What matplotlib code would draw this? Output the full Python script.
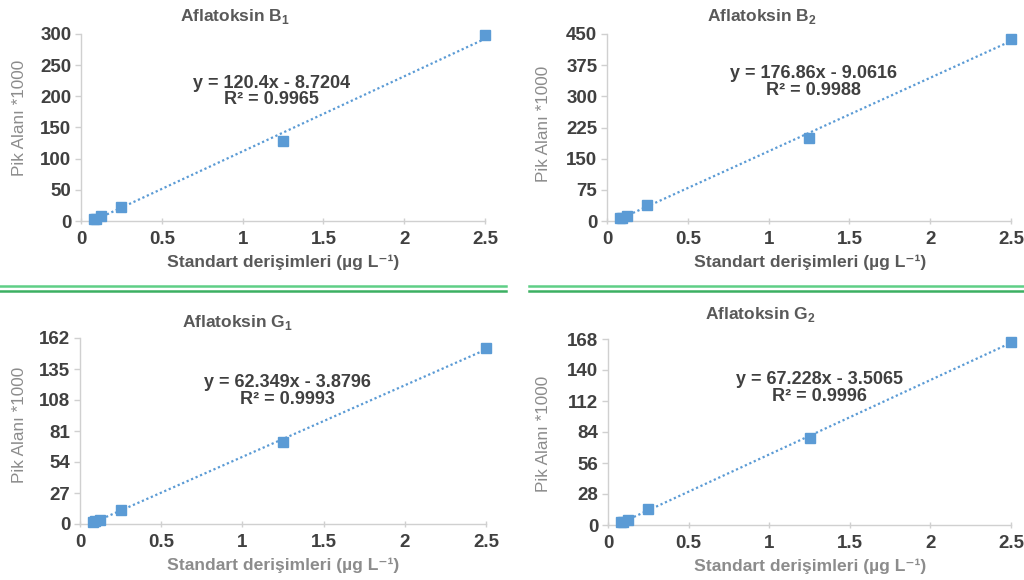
import numpy as np
import matplotlib
matplotlib.use("Agg")
import matplotlib.pyplot as plt
from matplotlib.lines import Line2D

plt.rcParams['font.family'] = ['Liberation Sans', 'DejaVu Sans']
plt.rcParams['mathtext.fontset'] = 'custom'
plt.rcParams['mathtext.rm'] = 'Liberation Sans'
plt.rcParams['mathtext.bf'] = 'Liberation Sans:bold'

# concentrations (ug/L)
conc = [0.078, 0.09, 0.125, 0.25, 1.25, 2.5]

# peak areas *1000
b1 = [2.7, 3.5, 8.6, 23, 128, 299]
b2 = [7, 8, 12.8, 37.7, 200, 438]
g1 = [2.0, 2.5, 3.8, 12.5, 71.4, 153.6]
g2 = [2.5, 3.0, 4.5, 14.4, 78.9, 165.6]

names = ["B", "B", "G", "G"]
subs = ["1", "2", "1", "2"]
series = [b1, b2, g1, g2]
slopes = [120.4, 176.86, 62.349, 67.228]
intercepts = [-8.7204, -9.0616, -3.8796, -3.5065]
r2 = ["0.9965", "0.9988", "0.9993", "0.9996"]
ymax = [300, 450, 162, 168]
ystep = [50, 75, 27, 28]

W, H = 1024, 580
fig = plt.figure(figsize=(W / 100, H / 100), dpi=100)

# plot boxes in pixels: left, top, right, bottom
boxes = [(81, 34, 485, 221), (607, 34, 1011, 221),
         (80, 338, 486, 524), (608, 339, 1011, 525)]
title_pos = [(235, 17), (762, 17), (237, 322), (760, 315)]
ylab_pos = [(20, 118), (544, 124), (20, 425), (544, 434)]
xlab_pos = [(283, 262), (810, 262), (283, 565), (810, 566)]
eq_pos = [(1.18, 207.8), (1.28, 334.5), (1.28, 115.8), (1.31, 123.7)]
xlab_col = ["#595959", "#595959", "#8c8c8c", "#8c8c8c"]

blue = "#5b9bd5"
dark = "#404040"

for i in range(4):
    l, t, r, b = boxes[i]
    ax = fig.add_axes([l / W, 1 - b / H, (r - l) / W, (b - t) / H])
    y = series[i]
    xs = np.array([min(conc), max(conc)])
    ax.plot(xs, slopes[i] * xs + intercepts[i], linestyle=(0, (1, 1.2)),
            color=blue, lw=1.6)
    ax.plot(conc, y, "s", color=blue, ms=6.5, clip_on=False, zorder=3)
    ax.set_xlim(0, 2.5)
    ax.set_ylim(0, ymax[i])
    ax.set_xticks([0, 0.5, 1, 1.5, 2, 2.5])
    ax.set_xticklabels(["0", "0.5", "1", "1.5", "2", "2.5"])
    ax.set_yticks(np.arange(0, ymax[i] + 1, ystep[i]))
    for s in ["top", "right"]:
        ax.spines[s].set_visible(False)
    for s in ["left", "bottom"]:
        ax.spines[s].set_color("#d0d0d0")
        ax.spines[s].set_linewidth(1.0)
    ax.tick_params(axis="both", colors="#d0d0d0", labelcolor=dark,
                   labelsize=13.5, length=4, width=1.0)
    ax.tick_params(axis="x", direction="inout", pad=5)
    ax.tick_params(axis="y", pad=3)
    for lab in ax.get_xticklabels() + ax.get_yticklabels():
        lab.set_fontweight("bold")
    ax.patch.set_alpha(0)

    ex, ey = eq_pos[i]
    sign = "-" if intercepts[i] < 0 else "+"
    ax.text(ex, ey, f"y = {slopes[i]}x {sign} {abs(intercepts[i])}\nR² = {r2[i]}",
            ha="center", va="center", fontsize=13, fontweight="bold",
            color="#404040", linespacing=0.95)

    tx, ty = title_pos[i]
    fig.text(tx / W, 1 - ty / H, f"Aflatoksin {names[i]}" + r"$_{\mathbf{" + subs[i] + "}}$",
             ha="center", va="center", fontsize=12.5, fontweight="bold", color="#595959")
    yx, yy = ylab_pos[i]
    fig.text(yx / W, 1 - yy / H, "Pik Alanı *1000", rotation=90, ha="center",
             va="center", fontsize=12.3, color="#8c8c8c")
    xx, xy = xlab_pos[i]
    fig.text(xx / W, 1 - xy / H, "Standart derişimleri (µg L⁻¹)",
             ha="center", va="center", fontsize=12.6, fontweight="bold", color=xlab_col[i])

# green separators between rows
for yy, col in [(286, "#5fcf86"), (291, "#3cb062")]:
    for x0, x1 in [(0, 506), (529, 1024)]:
        fig.add_artist(Line2D([x0 / W, x1 / W], [1 - yy / H, 1 - yy / H],
                              color=col, lw=1.8, transform=fig.transFigure))

fig.savefig("out.png", dpi=100)
